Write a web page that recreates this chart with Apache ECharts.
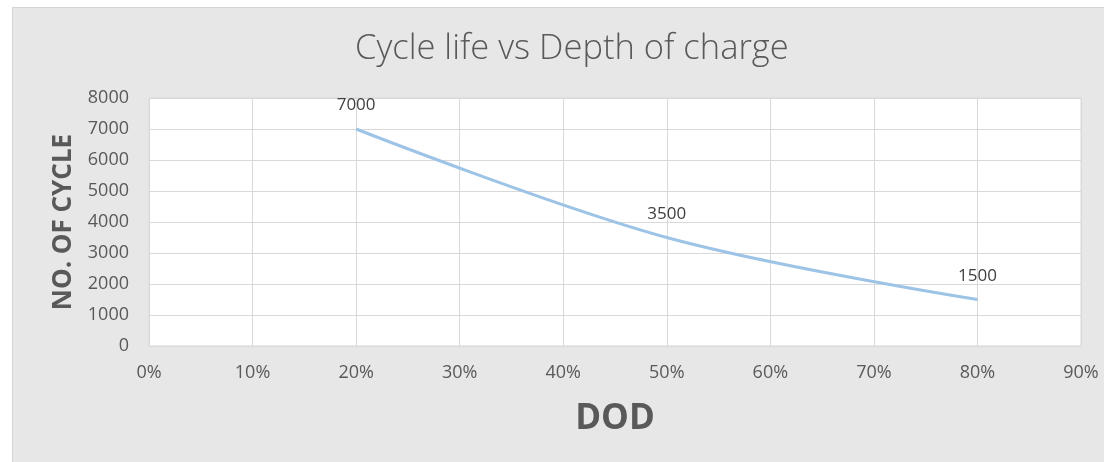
<!DOCTYPE html>
<html><head><meta charset="utf-8">
<script src="https://cdn.jsdelivr.net/npm/echarts@6/dist/echarts.min.js"></script>
<style>html,body{margin:0;padding:0;background:#fff}#c{width:1104px;height:462px}</style>
</head><body><div id="c"></div>
<script>
const dodPercent = [20, 50, 80];
const cycles = [7000, 3500, 1500];
const xTicks = [0, 10, 20, 30, 40, 50, 60, 70, 80, 90];
const yTicks = [0, 1000, 2000, 3000, 4000, 5000, 6000, 7000, 8000];
const titleText = 'Cycle life vs Depth of charge';
const xName = 'DOD';
const yName = 'NO. OF CYCLE';

const chart = echarts.init(document.getElementById('c'), null, {renderer: 'canvas'});
const font = '"Open Sans", "Noto Sans", sans-serif';
chart.setOption({
  animation: false,
  graphic: [{
    type: 'rect', left: 12, top: 7, z: -10,
    shape: {x: 0, y: 0, width: 1110, height: 470},
    style: {fill: '#e7e7e7', stroke: '#d4d4d4', lineWidth: 1}
  }],
  title: {
    text: titleText, left: 350, top: 27,
    textStyle: {fontFamily: font, fontWeight: 300, fontSize: 34.5, color: '#595959'}
  },
  grid: {left: 149, right: 23, top: 98, bottom: 116, show: true, backgroundColor: '#ffffff', borderColor: '#d9d9d9', borderWidth: 1},
  xAxis: {
    type: 'value', min: 0, max: 90, interval: 10,
    name: xName, nameLocation: 'middle', nameGap: 56,
    nameTextStyle: {fontFamily: font, fontWeight: 'bold', fontSize: 35, color: '#595959'},
    axisLine: {show: true, lineStyle: {color: '#d9d9d9'}},
    axisTick: {show: false},
    axisLabel: {formatter: v => v + '%', margin: 18, fontFamily: font, fontSize: 18, color: '#595959'},
    splitLine: {show: true, lineStyle: {color: '#d9d9d9', width: 1}}
  },
  yAxis: {
    type: 'value', min: 0, max: 8000, interval: 1000,
    name: yName, nameLocation: 'middle', nameGap: 60, nameRotate: 90,
    nameTextStyle: {fontFamily: font, fontWeight: 'bold', fontSize: 26, color: '#595959'},
    axisLine: {show: false},
    axisTick: {show: false},
    axisLabel: {formatter: v => String(v), margin: 20, fontFamily: font, fontSize: 18, color: '#595959'},
    splitLine: {show: true, lineStyle: {color: '#d9d9d9', width: 1}}
  },
  series: [{
    type: 'line',
    data: dodPercent.map((x, i) => [x, cycles[i]]),
    smooth: 0.35,
    symbol: 'circle', symbolSize: 2, showSymbol: true,
    itemStyle: {color: 'rgba(0,0,0,0)', borderWidth: 0},
    lineStyle: {color: '#9dc3e6', width: 3},
    label: {show: true, position: 'top', distance: 14, fontFamily: font, fontSize: 17, color: '#404040', formatter: p => String(p.value[1])}
  }]
});
</script></body></html>
